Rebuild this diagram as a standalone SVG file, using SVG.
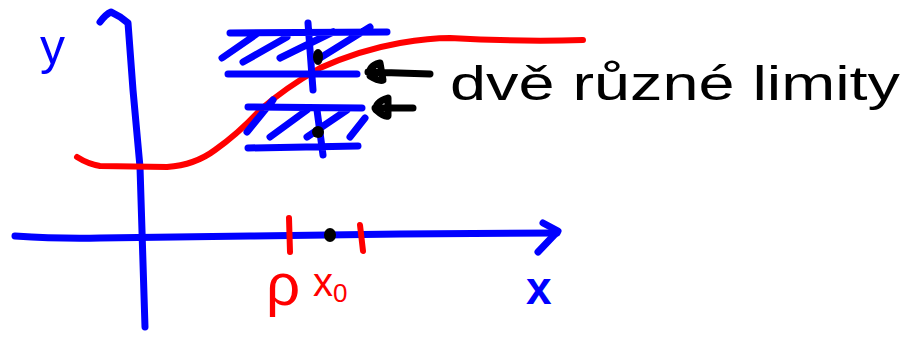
<svg xmlns="http://www.w3.org/2000/svg" width="905" height="341" viewBox="0 0 905 341">
<style>
.b{fill:none;stroke:#0000ff;stroke-width:7;stroke-linecap:round;stroke-linejoin:round}
.r{fill:none;stroke:#ff0000;stroke-width:6;stroke-linecap:round;stroke-linejoin:round}
.k{fill:none;stroke:#000;stroke-width:7;stroke-linecap:round;stroke-linejoin:round}
.t{font-family:"Liberation Sans",Arial,sans-serif}
</style>
<rect width="905" height="341" fill="#fff"/>
<g id="axes">
<path class="b" d="M100,22 Q106,14 111,12 Q120,16 128,23 L133,90 L140,167 L145,327"/>
<path class="b" d="M15,236 Q60,239 100,238 L250,236 L400,234 L557,233"/>
<path class="b" d="M543,223 L558,231 L538,252"/>
<text class="t" x="40" y="64" font-size="50" fill="#0000ff">y</text>
<text class="t" x="526" y="304" font-size="46" font-weight="bold" fill="#0000ff">x</text>
</g>
<g id="curve">
<path class="r" d="M77,157 Q88,164 100,166 L167,167 Q195,165 215,150 Q240,132 260,110 Q285,88 320,68 Q360,50 400,43 Q430,38 450,38 Q520,42 583,40"/>
</g>
<g id="upper-band">
<path class="b" d="M230,33 L387,32 M228,74 L357,74 M222,58 L258,33 M243,62 L287,37 M280,58 L333,32 M320,58 L370,27 M308,23 L313,90"/>
<ellipse cx="318" cy="57" rx="5" ry="8" fill="#000"/>
</g>
<g id="lower-band">
<path class="b" d="M248,107 L362,108 M248,148 L358,146 M247,132 L273,100 M270,137 L307,110 M307,137 L347,110 M350,137 L365,118 M317,110 L323,155"/>
<circle cx="318" cy="132" r="6" fill="#000"/>
</g>
<g id="neighbourhood">
<path class="r" d="M289,218 L290,252 M360,225 L363,251"/>
<ellipse cx="330" cy="235" rx="6" ry="7" fill="#000"/>
<text class="t" x="266" y="305" font-size="60" fill="#ff0000">ρ</text>
<text class="t" x="313" y="296" font-size="40" fill="#ff0000">x<tspan font-size="26" dy="6">0</tspan></text>
</g>
<g id="connectors">
<path class="k" d="M430,74 L368,72 M380,63 Q368,66 370,76 Q380,82 383,80 Z"/>
<path class="k" d="M413,108 L375,108 M388,98 Q375,102 376,110 Q385,118 388,116 Z"/>
</g>
<g id="label">
<text class="t" x="450" y="100" font-size="48" fill="#000" textLength="450" lengthAdjust="spacingAndGlyphs">dvě různé limity</text>
</g>
</svg>
